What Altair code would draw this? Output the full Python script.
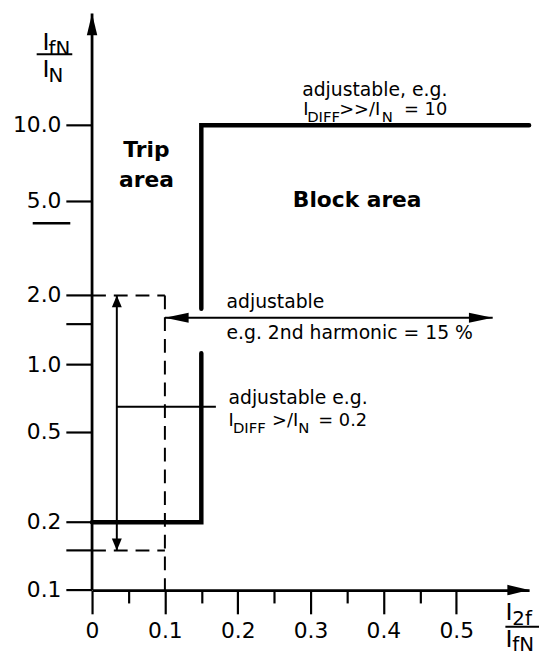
import altair as alt
import pandas as pd

FONT = "DejaVu Sans"
INK = "black"

# ---------------- axes ----------------
x_major = [0, 0.1, 0.2, 0.3, 0.4, 0.5]
x_minor = [0.05, 0.15, 0.25, 0.35, 0.45]
x_end = 0.6
y_ticks = [0.1, 0.15, 0.2, 0.5, 1, 1.5, 2, 5, 10]
y_tick_labels = ["0.1", "", "0.2", "0.5", "1.0", "", "2.0", "5.0", "10.0"]
y_top = 40
y_breaks = [0.1, 1, 2, 5, 10, y_top]

# ---------------- characteristic (thick line) ----------------
char_part = ["low", "low", "low", "high", "high", "high"]
char_step = [0, 1, 2, 0, 1, 2]
char_x = [0.0, 0.15, 0.15, 0.15, 0.15, 0.6]
char_y = [0.2, 0.2, 1.12, 1.75, 10.0, 10.0]

# ---------------- dashed box ----------------
box_part = ["top", "top", "right", "right", "bottom", "bottom"]
box_step = [0, 1, 0, 1, 0, 1]
box_x = [0.0, 0.1, 0.1, 0.1, 0.0, 0.1]
box_y = [2.0, 2.0, 2.0, 0.1, 0.15, 0.15]

# ---------------- thin lines (shafts / pointer) ----------------
thin_x = [0.034, 0.1, 0.034]
thin_x2 = [0.034, 0.55, 0.17]
thin_y = [0.15, 1.6, 0.65]
thin_y2 = [2.0, 1.6, 0.65]

# ---------------- arrow heads ----------------
axis_head_x = [0.0, x_end]
axis_head_y = [y_top, 0.1]
axis_head_dir = [0, 90]
vhead_x = [0.034, 0.034]
vhead_y = [2.0, 0.15]
vhead_dir = [0, 180]
hhead_x = [0.1, 0.55]
hhead_y = [1.6, 1.6]
hhead_dir = [270, 90]

# ---------------- annotations ----------------
area_text = ["Trip", "area"]
area_x = [0.0747, 0.0747]
area_y = [7.5, 5.72]
block_text = ["Block area"]
block_x = [0.2756]
block_y = [4.72]

note_text = ["adjustable, e.g.", "adjustable", "e.g. 2nd harmonic = 15 %", "adjustable e.g."]
note_x = [0.2885, 0.1846, 0.1846, 0.1873]
note_y = [14.45, 1.76, 1.294, 0.668]

main_text = ["I", ">>/I", "= 10", "I", ">/I", "= 0.2"]
main_x = [0.2898, 0.3393, 0.4283, 0.1873, 0.2471, 0.3106]
main_y = [11.3, 11.3, 11.3, 0.535, 0.535, 0.535]
sub_text = ["DIFF", "N", "DIFF", "N"]
sub_x = [0.2953, 0.3977, 0.1934, 0.2830]
sub_y = [11.3, 11.3, 0.535, 0.535]

W, H = 442, 583

xs = alt.Scale(domain=[0, x_end], nice=False, zero=False)
ys = alt.Scale(type="log", domain=y_breaks, range=[583, 355, 285, 190, 113, 0], nice=False)

x_axis_major = alt.Axis(
    orient="bottom",
    values=x_major, tickSize=24, tickWidth=2.2, tickColor=INK,
    domainWidth=2.8, domainColor=INK, grid=False, title=None,
    labelFont=FONT, labelFontSize=22, labelColor=INK, labelPadding=7,
    labelFlush=False, labelOverlap=False,
    labelExpr="datum.value == 0 ? '0' : format(datum.value, '.1f')",
)
x_axis_minor = alt.Axis(
    orient="bottom",
    values=x_minor, tickSize=13, tickWidth=2.2, tickColor=INK,
    domain=False, labels=False, grid=False, title=None,
)


def X(field="x", axis=None):
    return alt.X(f"{field}:Q", scale=xs, axis=axis)


def Y(field="y", axis=None):
    return alt.Y(f"{field}:Q", scale=ys, axis=axis)


char = alt.Chart(pd.DataFrame({"part": char_part, "step": char_step, "x": char_x, "y": char_y})).mark_line(
    color=INK, strokeWidth=4.5, strokeCap="round", strokeJoin="miter"
).encode(x=X(axis=x_axis_major), y=Y(), detail="part:N", order="step:Q")

box = alt.Chart(pd.DataFrame({"part": box_part, "step": box_step, "x": box_x, "y": box_y})).mark_line(
    color=INK, strokeWidth=2, strokeDash=[14, 8]
).encode(x=X(), y=Y(), detail="part:N", order="step:Q")

thin = alt.Chart(pd.DataFrame({"x": thin_x, "x2": thin_x2, "y": thin_y, "y2": thin_y2})).mark_rule(
    color=INK, strokeWidth=2
).encode(x=X(), x2="x2:Q", y=Y(), y2="y2:Q")

minor = alt.Chart(pd.DataFrame({"x": x_minor})).mark_point(opacity=0).encode(x=X(axis=x_axis_minor))

# ---- y axis (log, drawn through the y scale) ----
y_line = alt.Chart(pd.DataFrame({"x": [0.0], "y": [y_breaks[0]], "y2": [y_top]})).mark_rule(
    color=INK, strokeWidth=2.8
).encode(x=X(), y=Y(), y2="y2:Q")
y_tick_marks = alt.Chart(pd.DataFrame({"y": y_ticks})).mark_rule(
    color=INK, strokeWidth=2.2
).encode(y=Y(), x=alt.value(-26), x2=alt.value(0))
y_tick_text = alt.Chart(pd.DataFrame({"y": y_ticks, "lab": y_tick_labels})).mark_text(
    font=FONT, fontSize=22, align="right", baseline="middle", color=INK
).encode(y=Y(), x=alt.value(-31), text="lab:N")


def heads(xv, yv, dv, path, size):
    return alt.Chart(pd.DataFrame({"x": xv, "y": yv, "dir": dv})).mark_point(
        shape=path, size=size, filled=True, color=INK, opacity=1, strokeWidth=0
    ).encode(x=X(), y=Y(), angle=alt.Angle("dir:Q", scale=None))


axis_heads = heads(axis_head_x, axis_head_y, axis_head_dir, "M0,0L0.24,1L-0.24,1Z", 1936)
v_heads = heads(vhead_x, vhead_y, vhead_dir, "M0,0L0.42,1L-0.42,1Z", 576)
h_heads = heads(hhead_x, hhead_y, hhead_dir, "M0,0L0.21,1L-0.21,1Z", 2304)


def texts(tv, xv, yv, size, weight="normal", align="left", dy=0):
    return alt.Chart(pd.DataFrame({"t": tv, "x": xv, "y": yv})).mark_text(
        font=FONT, fontSize=size, fontWeight=weight, align=align, baseline="alphabetic",
        color=INK, dy=dy
    ).encode(x=X(), y=Y(), text="t:N")


area_lbl = texts(area_text, area_x, area_y, 22, "bold", "center")
block_lbl = texts(block_text, block_x, block_y, 22, "bold")
notes = texts(note_text, note_x, note_y, 19)
mains = texts(main_text, main_x, main_y, 18)
subs = texts(sub_text, sub_x, sub_y, 15, dy=7)

one = alt.Data(values=[{"k": 1}])


def piece(text, px, py, size):
    return alt.Chart(one).mark_text(
        text=text, font=FONT, fontSize=size, align="left", baseline="alphabetic", color=INK
    ).encode(x=alt.value(px), y=alt.value(py))


def bar(px1, px2, py, width=2):
    return alt.Chart(one).mark_rule(color=INK, strokeWidth=width).encode(
        x=alt.value(px1), x2=alt.value(px2), y=alt.value(py)
    )


# axis titles drawn as fractions with subscripts
y_title = [
    piece("I", -50, 37, 24), piece("fN", -44, 42, 20), bar(-56, -20, 41),
    piece("I", -50, 64, 24), piece("N", -44, 69, 20),
]
x_title = [
    piece("I", 418, 613, 24), piece("2f", 425, 618, 20), bar(418, 454, 620),
    piece("I", 418, 641, 24), piece("fN", 425, 645, 20),
]
underline_5 = bar(-60, -22, 212, 2.5)

chart = alt.layer(
    char, minor, box, thin, y_line, y_tick_marks, y_tick_text,
    axis_heads, v_heads, h_heads,
    area_lbl, block_lbl, notes, mains, subs,
    *y_title, *x_title, underline_5,
).resolve_axis(x="independent").properties(
    width=W, height=H,
    padding={"left": 85, "top": 2, "right": 10, "bottom": 64},
    autosize=alt.AutoSizeParams(type="none"),
).configure_view(stroke=None)

chart.save("out.html", embed_options={"renderer": "svg", "actions": False})
